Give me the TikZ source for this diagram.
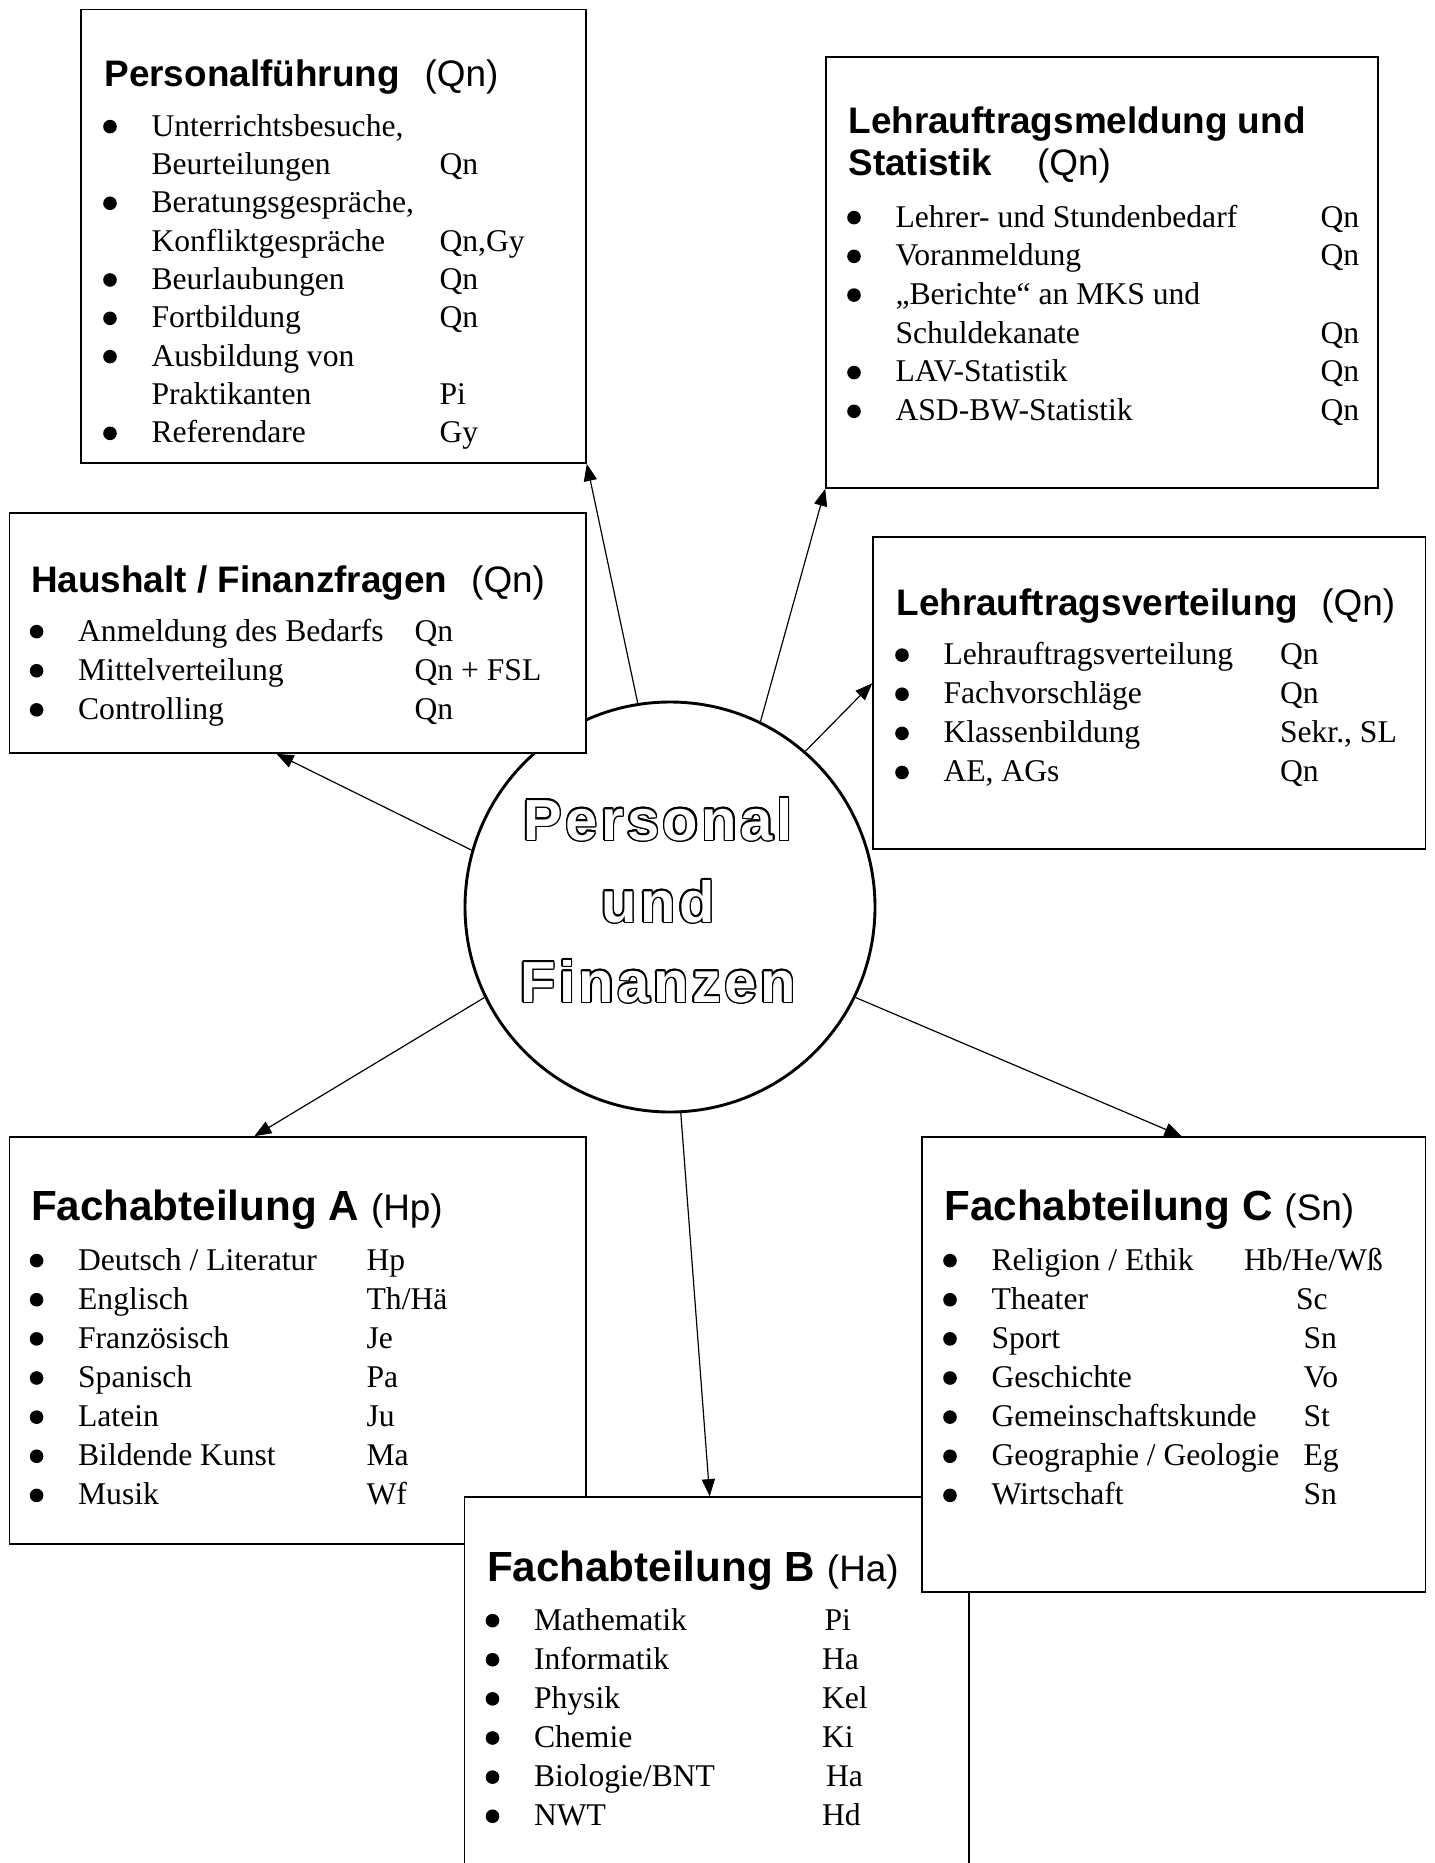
\documentclass[tikz,border=0pt]{standalone}
\usepackage{fontspec}
\setmainfont{Liberation Serif}
\setsansfont{Liberation Sans}
\newfontfamily\kreisfont[LetterSpace=6]{Liberation Sans}
\usepackage[copies]{contour}
\usetikzlibrary{arrows.meta,fit}

\newlength{\pxu}
\setlength{\pxu}{0.3795pt}
\contourlength{0.55pt}

\newcommand{\kopf}[3]{{\bfseries #1}\hspace{#2\pxu}#3}
\newcommand{\abtkopf}[2]{{\fontsize{16}{18.4}\selectfont\bfseries #1}\hspace{12\pxu}#2}
\newcommand{\liste}[2]{\begin{tabular}[t]{@{}p{47\pxu}@{}p{#1\pxu}@{}l@{}}#2\end{tabular}}

\tikzset{
  box/.style={draw, line width=0.6pt, fill=white, inner sep=0pt},
  kopfzeile/.style={anchor=base west, inner sep=0pt, font=\sffamily\fontsize{14}{16.2}\selectfont},
  liste/.style={anchor=base west, inner sep=0pt, font=\fontsize{12}{#1}\selectfont},
  liste/.default=14.85,
  punkt/.style={radius=6.8},
  pfeil/.style={-{Triangle[length=6.5pt,width=5pt]}, line width=0.45pt},
  kreisschrift/.style={anchor=base, inner sep=0pt, font=\kreisfont\bfseries\fontsize{22}{26}\selectfont}
}

\begin{document}
\begin{tikzpicture}[x=0.3795pt, y=-0.3795pt]
  \useasboundingbox (0,0) rectangle (1435,1863);
  \clip (0,0) rectangle (1435,1863);

  % Mitte
  \node[draw, circle, line width=1.1pt, minimum size=410\pxu, inner sep=0pt] (kreis) at (670,907) {};

  % Personalfuehrung
  \node[box, fit={(81,9.5) (586,463)}] (pf) {};
  \node[kopfzeile] (pf-kopf) at (104,86) {\kopf{Personalführung}{25}{(Qn)}};
  \node[liste=14.55] (pf-liste) at (104,136) {\liste{288}{
    & Unterrichtsbesuche, & \\
    & Beurteilungen & Qn \\
    & Beratungsgespräche, & \\
    & Konfliktgespräche & Qn,Gy \\
    & Beurlaubungen & Qn \\
    & Fortbildung & Qn \\
    & Ausbildung von & \\
    & Praktikanten & Pi \\
    & Referendare & Gy
  }};
  \foreach \r in {0,2,4,5,6,8}
    \fill (110,{126.6+38.34*\r}) circle[punkt];

  % Lehrauftragsmeldung
  \node[box, fit={(826,57) (1378,488)}] (lm) {};
  \node[kopfzeile] (lm-kopf) at (848,133) {\begin{tabular}[t]{@{}l@{}}
    \bfseries Lehrauftragsmeldung und\\
    \kopf{Statistik}{45}{(Qn)}\end{tabular}};
  \node[liste=14.7] (lm-liste) at (848,227) {\liste{425}{
    & Lehrer- und Stundenbedarf & Qn \\
    & Voranmeldung & Qn \\
    & „Berichte“ an MKS und & \\
    & Schuldekanate & Qn \\
    & LAV-Statistik & Qn \\
    & ASD-BW-Statistik & Qn
  }};
  \foreach \r in {0,1,2,4,5}
    \fill (854,{217.6+38.74*\r}) circle[punkt];

  % Haushalt
  \node[box, fit={(9.5,513) (586,753)}] (hh) {};
  \node[kopfzeile] (hh-kopf) at (30.6,592) {\kopf{Haushalt / Finanzfragen}{24}{(Qn)}};
  \node[liste] (hh-liste) at (30.6,641) {\liste{336.5}{
    & Anmeldung des Bedarfs & Qn \\
    & Mittelverteilung & Qn + FSL \\
    & Controlling & Qn
  }};
  \foreach \r in {0,1,2}
    \fill (36.6,{631.6+39.13*\r}) circle[punkt];

  % Lehrauftragsverteilung
  \node[box, fit={(873,537) (1425.5,849)}] (lv) {};
  \node[kopfzeile] (lv-kopf) at (896,615.5) {\kopf{Lehrauftragsverteilung}{23}{(Qn)}};
  \node[liste] (lv-liste) at (896,664.5) {\liste{336.5}{
    & Lehrauftragsverteilung & Qn \\
    & Fachvorschläge & Qn \\
    & Klassenbildung & Sekr., SL \\
    & AE, AGs & Qn
  }};
  \foreach \r in {0,...,3}
    \fill (902,{655.1+39.13*\r}) circle[punkt];

  % Fachabteilungen
  \node[box, fit={(9.5,1137) (586,1544)}] (fa) {};
  \node[kopfzeile] (fa-kopf) at (30.6,1220) {\abtkopf{Fachabteilung A}{(Hp)}};
  \node[liste] (fa-liste) at (30.6,1270) {\liste{288.5}{
    & Deutsch / Literatur & Hp \\
    & Englisch & Th/Hä \\
    & Französisch & Je \\
    & Spanisch & Pa \\
    & Latein & Ju \\
    & Bildende Kunst & Ma \\
    & Musik & Wf
  }};
  \foreach \r in {0,...,6}
    \fill (36.6,{1260.6+39.13*\r}) circle[punkt];

  \node[box, fit={(464.5,1497) (969,1900)}] (fb) {};
  \node[kopfzeile] (fb-kopf) at (486.5,1581) {\abtkopf{Fachabteilung B}{(Ha)}};
  \node[liste] (fb-liste) at (486.5,1630) {\liste{288}{
    & Mathematik & \hspace{2.6\pxu}Pi \\
    & Informatik & Ha \\
    & Physik & Kel \\
    & Chemie & Ki \\
    & Biologie/BNT & \hspace{4\pxu}Ha \\
    & NWT & Hd
  }};
  \foreach \r in {0,...,5}
    \fill (492.5,{1620.6+39.13*\r}) circle[punkt];

  \node[box, fit={(922,1137) (1425.5,1592)}] (fc) {};
  \node[kopfzeile] (fc-kopf) at (944,1220) {\abtkopf{Fachabteilung C}{(Sn)}};
  \node[liste] (fc-liste) at (944,1270) {\liste{312}{
    & Religion / Ethik & \hspace{-59.5\pxu}Hb/He/Wß \\
    & Theater & \hspace{-7.5\pxu}Sc \\
    & Sport & Sn \\
    & Geschichte & Vo \\
    & Gemeinschaftskunde & St \\
    & Geographie / Geologie & Eg \\
    & Wirtschaft & Sn
  }};
  \foreach \r in {0,...,6}
    \fill (950,{1260.6+39.13*\r}) circle[punkt];

  \foreach \wort/\y [count=\i] in {Personal/840, und/922, Finanzen/1002}
    \node[kreisschrift] (wort\i) at (658,\y) {\color{white}\contour{black}{\wort}};

  % Pfeile
  \draw[pfeil] (kreis.99.6) -- (pf.south east);
  \draw[pfeil] (kreis.64.6) -- (lm.south west);
  \draw[pfeil] (kreis.49.4) -- (lv.178);
  \draw[pfeil] (kreis.164.6) -- (hh.260);
  \draw[pfeil] (kreis.206.8) -- (fa.102);
  \draw[pfeil] (kreis.273.6) -- (fb.92);
  \draw[pfeil] (kreis.334.2) -- (fc.88);
\end{tikzpicture}
\end{document}
